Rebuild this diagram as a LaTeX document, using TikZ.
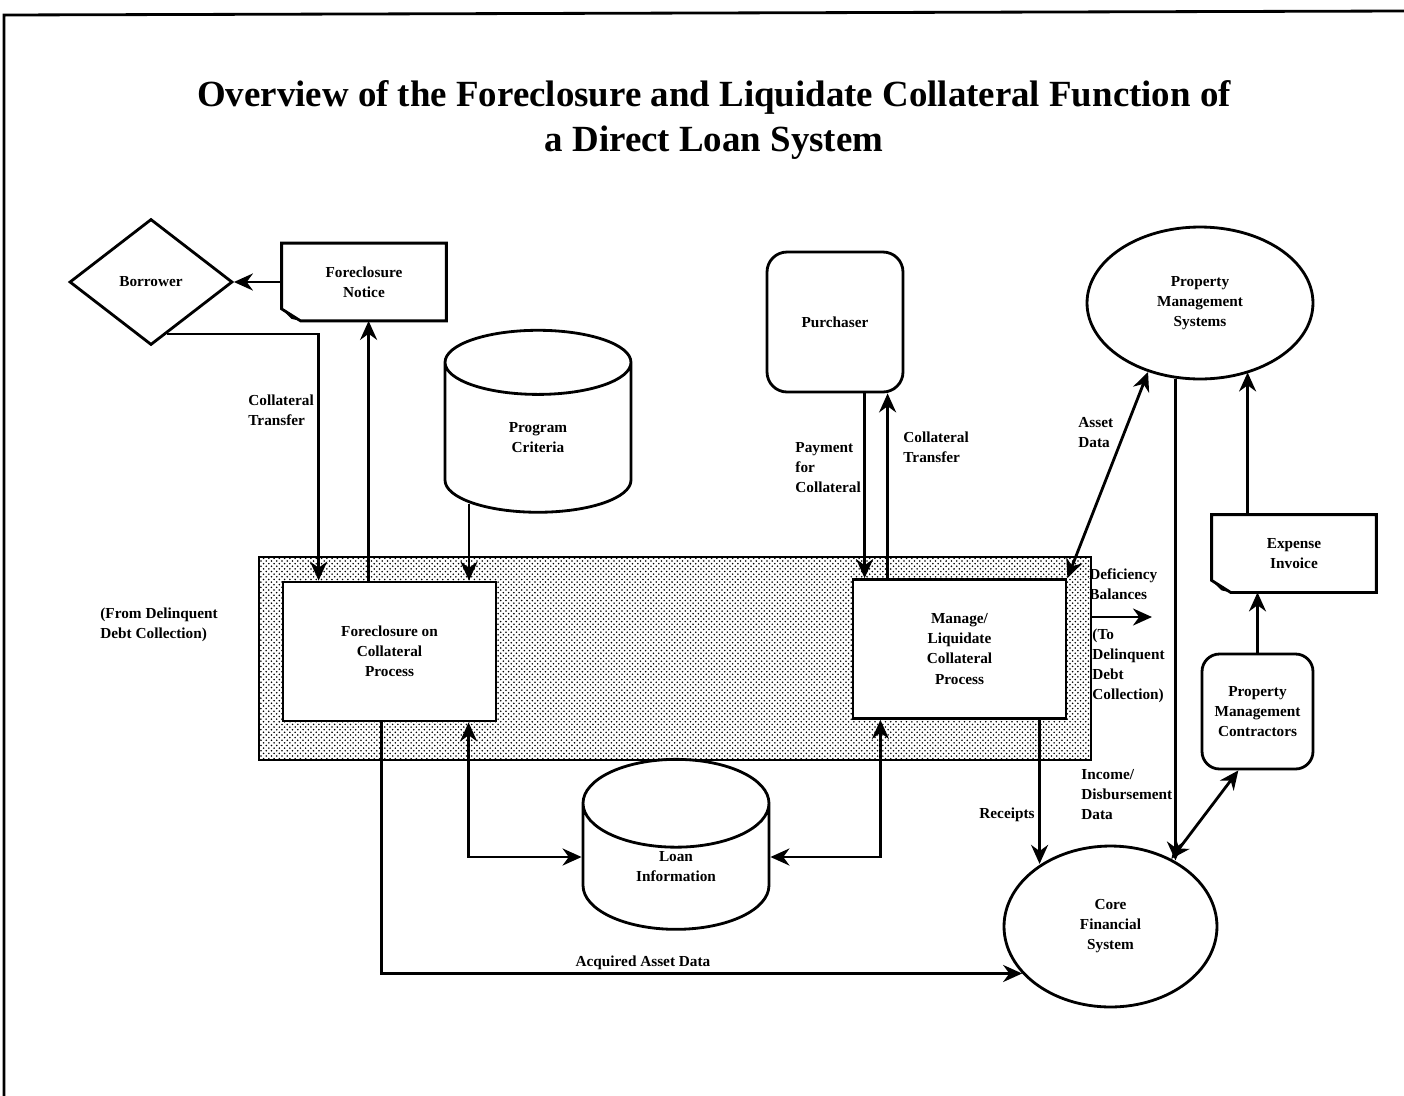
\documentclass[tikz,border=0pt]{standalone}
\usepackage{fontspec}
\setmainfont{Liberation Serif}
\usetikzlibrary{shapes.geometric,arrows.meta,patterns}

\begin{document}
\begin{tikzpicture}[x=0.02cm,y=-0.02cm,line width=1.6pt,
    every node/.style={font=\bfseries\fontsize{8.7}{11.4}\selectfont,align=center,inner sep=0pt},
    arr/.style={-{Stealth[length=3.8mm,width=3.4mm]}},
    darr/.style={{Stealth[length=3.8mm,width=3.4mm]}-{Stealth[length=3.8mm,width=3.4mm]}},
    proc/.style={draw,fill=white,minimum width=4.26cm,minimum height=2.78cm},
    ent/.style={draw,rounded corners=0.4cm,minimum width=2.72cm,minimum height=2.8cm},
    sys/.style={draw,ellipse,minimum width=4.52cm,minimum height=3.04cm},
    store/.style={draw,cylinder,shape border rotate=90,aspect=1.1,minimum width=3.72cm,fill=white},
    doc/.style={minimum width=3.24cm,minimum height=1.5cm},
    lbl/.style={anchor=west,align=left}]
  \useasboundingbox (0,0) rectangle (1404,1096);
  \draw (4,1096) -- (4,15) -- (1404,11);
  \node[font=\bfseries\fontsize{21}{25.5}\selectfont] (title) at (714,120)
    {Overview of the Foreclosure and Liquidate Collateral Function of\\a Direct Loan System};

  \node[draw,pattern=crosshatch dots,minimum width=16.64cm,minimum height=4.06cm] (band) at (675,658.5) {};
  \node[proc] (fcp) at (389.5,651.5) {Foreclosure on\\Collateral\\Process};
  \node[proc] (mlp) at (959.5,649) {Manage/\\Liquidate\\Collateral\\Process};

  \node[draw,diamond,minimum width=3.26cm,minimum height=2.52cm] (borrower) at (151,282) {Borrower};
  \node[doc] (notice) at (364,282) {Foreclosure\\Notice};
  \node[store,minimum height=3.64cm] (prog) at (538,438) {Program\\Criteria};
  \node[ent] (purch) at (835,322) {Purchaser};
  \node[sys] (pms) at (1200,303) {Property\\Management\\Systems};
  \node[doc] (inv) at (1294,553.5) {Expense\\Invoice};
  \node[ent,minimum width=2.22cm,minimum height=2.3cm,rounded corners=0.35cm] (pmc) at (1257.5,711.5)
    {Property\\Management\\Contractors};
  \node[sys,minimum width=4.26cm,minimum height=3.22cm] (core) at (1110.5,926.5) {Core\\Financial\\System};
  \node[store,minimum height=3.4cm] (loan) at (676,867) {Loan\\Information};

  \foreach \d in {notice,inv} {
    \draw ([yshift=0.24cm]\d.south west) |- (\d.north east) |- ([xshift=0.38cm]\d.south west) -- cycle;
    \fill ([yshift=0.24cm]\d.south west) -- ([xshift=0.38cm]\d.south west) -- ([shift={(0.2cm,0.04cm)}]\d.south west) -- cycle;
  }

  \coordinate (defic) at (1152,617);

  \draw[arr] (notice.west) -- (borrower.east);
  \draw[arr] (borrower.-73) -| ([xshift=0.74cm]fcp.north west);
  \draw[arr] ([xshift=1.74cm]fcp.north west) -- ([xshift=1.74cm]fcp.north west |- notice.south);
  \draw[arr] ([xshift=-1.38cm,yshift=0.19cm]prog.south) -- ([xshift=-1.38cm]prog.south |- fcp.north);
  \draw[arr] ([xshift=0.26cm]mlp.north west |- purch.south) -- ([xshift=0.26cm]mlp.north west);
  \draw[arr] ([xshift=0.72cm]mlp.north west) -- ([xshift=0.72cm]mlp.north west |- purch.south);
  \draw[darr] (mlp.north east) -- (pms.-127);
  \draw[arr] (defic -| band.east) -- (defic);
  \draw[arr] (pms.-108) -- (pms.-108 |- core.46);
  \draw[arr] ([xshift=0.72cm]inv.north west) -- ([xshift=0.72cm]inv.north west |- pms.-54);
  \draw[arr] (pmc.north) -- (pmc.north |- inv.south);
  \draw[darr] (core.48) -- (pmc.-108);
  \draw[arr] ([xshift=3.76cm]mlp.south west) -- ([xshift=3.76cm]mlp.south west |- core.138);
  \draw[darr] ([xshift=3.74cm]fcp.south west) |- ([yshift=0.2cm]loan.west);
  \draw[darr] ([xshift=-3.74cm]mlp.south east) |- ([yshift=0.2cm]loan.east);
  \draw[arr] ([xshift=2cm]fcp.south west) |- (core.-152);

  \node[lbl] (ctl) at (247,410) {Collateral\\Transfer};
  \node[lbl] (pay) at (794,468) {Payment\\for\\Collateral};
  \node[lbl] (ctr) at (902,447) {Collateral\\Transfer};
  \node[lbl] (ad) at (1077,433) {Asset\\Data};
  \node[lbl] (db) at (1088,584) {Deficiency\\Balances};
  \node[lbl] (tdc) at (1091,666) {(To\\Delinquent\\Debt\\Collection)};
  \node[lbl] (ids) at (1080,795) {Income/\\Disbursement\\Data};
  \node (rc) at (1007,815) {Receipts};
  \node[lbl] (fdc) at (99,625) {(From Delinquent\\Debt Collection)};
  \node (aad) at (643,963) {Acquired Asset Data};
\end{tikzpicture}
\end{document}
